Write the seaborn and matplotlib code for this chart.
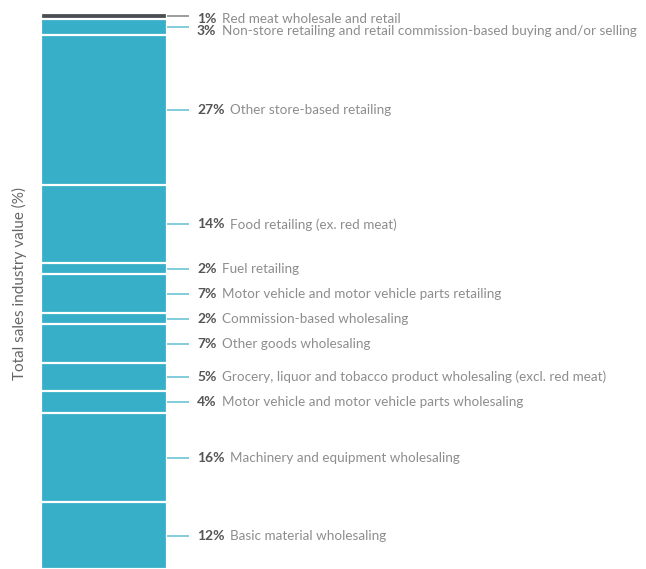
import matplotlib
matplotlib.use("Agg")
import matplotlib.pyplot as plt
import seaborn as sns
import numpy as np

# Industry shares of total sales value, listed from the top of the bar down
categories = [
    "Red meat wholesale and retail",
    "Non-store retailing and retail commission-based buying and/or selling",
    "Other store-based retailing",
    "Food retailing (ex. red meat)",
    "Fuel retailing",
    "Motor vehicle and motor vehicle parts retailing",
    "Commission-based wholesaling",
    "Other goods wholesaling",
    "Grocery, liquor and tobacco product wholesaling (excl. red meat)",
    "Motor vehicle and motor vehicle parts wholesaling",
    "Machinery and equipment wholesaling",
    "Basic material wholesaling",
]
shares = [1, 3, 27, 14, 2, 7, 2, 7, 5, 4, 16, 12]
highlight = "Red meat wholesale and retail"

TEAL = "#38afc8"
DARK = "#4a4d53"
LINE_TEAL = "#6cc3d6"
LINE_GRAY = "#8c8c8c"
PCT_COLOR = "#555555"
LBL_COLOR = "#8d8d8d"

sns.set_theme(style="white")
plt.rcParams["font.family"] = ["Lato", "DejaVu Sans"]

W, H = 646, 569
fig = plt.figure(figsize=(W / 100, H / 100), dpi=100)
ax = fig.add_axes([41 / W, 0, (W - 41) / W, (H - 13) / H])

# cumulative extent of each segment measured from the top of the bar
ends = np.cumsum(shares)
starts = ends - np.array(shares)

# layered bars: draw the longest first so shorter ones sit over it
for i in np.argsort(-ends):
    color = DARK if categories[i] == highlight else TEAL
    sns.barplot(x=[0], y=[ends[i]], color=color, width=1.0,
                edgecolor="white", linewidth=1.6, saturation=1, ax=ax)

bar_w_px = 126
px = 1 / bar_w_px
ax.set_xlim(-0.5, -0.5 + (W - 41) * px)
ax.set_ylim(100, 0)
ax.set_axis_off()

x_bar = 0.5
for i, (cat, s) in enumerate(zip(categories, shares)):
    yc = starts[i] + s / 2
    lc = LINE_GRAY if cat == highlight else LINE_TEAL
    ax.plot([x_bar, x_bar + 22 * px], [yc, yc], color=lc, lw=1.2,
            solid_capstyle="butt", clip_on=False)
    ty = yc + (0.65 if i < 2 else 0.0)
    t = ax.text(x_bar + 30 * px, ty, f"{s}%", fontsize=10, fontweight="bold",
                color=PCT_COLOR, va="center", ha="left")
    ax.annotate(cat, xy=(1, 0.5), xycoords=t, xytext=(4.3, 0),
                textcoords="offset points", fontsize=9.7, color=LBL_COLOR,
                va="center", ha="left")

fig.text(19 / W, 1 - 284 / H, "Total sales industry value (%)", rotation=90,
         fontsize=11, color="#666666", ha="center", va="center")

fig.savefig("out.png", dpi=100)
